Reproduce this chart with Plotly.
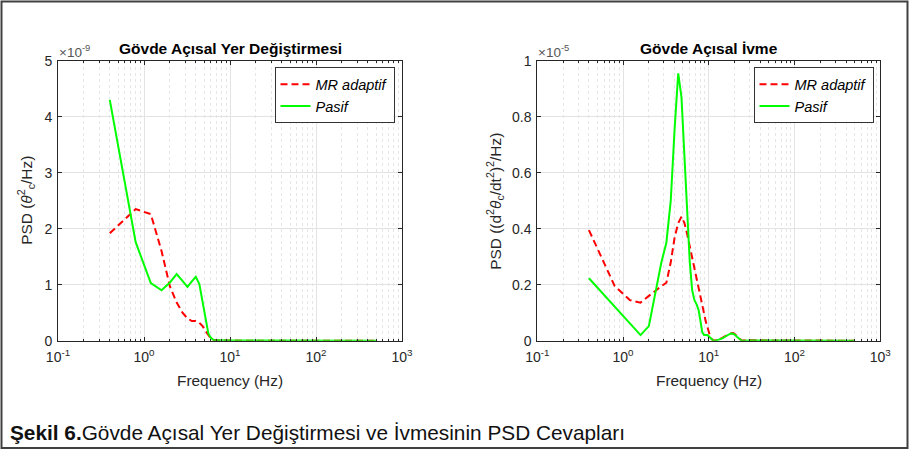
import plotly.graph_objects as go

# ---------------- data ----------------
freq = [0.4, 0.8, 1.2, 1.6, 2.0, 2.4, 2.8, 3.2, 3.6, 4.0, 4.4, 4.8, 5.2, 5.6, 6.0,
        6.4, 6.8, 7.2, 7.6, 8.0, 8.4, 8.8, 9.2, 9.6, 10.0, 10.4, 10.8, 11.2, 12.0,
        13.2, 14.4, 15.6, 16.8, 18.0, 19.2, 20.4, 21.6, 22.8, 24.0, 26.0, 30.0,
        50.0, 100.0, 200.0, 500.0]

# Left panel, units of 1e-9
disp_mr = [1.92, 2.35, 2.26, 1.60, 0.97, 0.68, 0.50, 0.40, 0.35, 0.35, 0.32, 0.26, 0.17, 0.09, 0.04,
           0.012, 0.004, 0.002, 0.002, 0.002, 0.001, 0.001, 0.001, 0.001, 0.001, 0.001, 0.001, 0.001, 0.001,
           0.001, 0.001, 0.001, 0.001, 0.001, 0.001, 0.001, 0.001, 0.001, 0.0, 0.0, 0.0,
           0.0, 0.0, 0.0, 0.0]
disp_pasif = [4.30, 1.76, 1.03, 0.90, 1.04, 1.19, 1.07, 0.96, 1.06, 1.14, 1.01, 0.68, 0.36, 0.13, 0.05,
              0.015, 0.006, 0.004, 0.003, 0.003, 0.002, 0.002, 0.002, 0.002, 0.002, 0.002, 0.002, 0.002, 0.002,
              0.002, 0.002, 0.002, 0.001, 0.001, 0.001, 0.001, 0.001, 0.001, 0.001, 0.001, 0.001,
              0.0, 0.0, 0.0, 0.0]

# Right panel, units of 1e-5
acc_mr = [0.395, 0.195, 0.145, 0.136, 0.16, 0.18, 0.195, 0.207, 0.28, 0.37, 0.42, 0.443, 0.42, 0.38, 0.336,
          0.29, 0.255, 0.22, 0.185, 0.15, 0.12, 0.095, 0.07, 0.05, 0.028, 0.014, 0.006, 0.002, 0.001,
          0.005, 0.01, 0.016, 0.022, 0.026, 0.027, 0.022, 0.012, 0.005, 0.002, 0.001, 0.002,
          0.001, 0.0005, 0.0, 0.0]
acc_pasif = [0.223, 0.12, 0.062, 0.02, 0.052, 0.17, 0.28, 0.35, 0.50, 0.76, 0.955, 0.87, 0.64, 0.45, 0.28,
             0.18, 0.145, 0.13, 0.11, 0.07, 0.03, 0.02, 0.02, 0.02, 0.016, 0.01, 0.004, 0.001, 0.0,
             0.003, 0.008, 0.015, 0.022, 0.026, 0.025, 0.02, 0.012, 0.005, 0.001, 0.0, 0.001,
             0.001, 0.0005, 0.0, 0.0]

x_tickvals = [0.1, 1, 10, 100, 1000]
x_ticktext = ["10<sup>-1</sup>", "10<sup>0</sup>", "10<sup>1</sup>", "10<sup>2</sup>", "10<sup>3</sup>"]

series_names = ["MR adaptif", "Pasif"]
titles = ["Gövde Açısal Yer Değiştirmesi", "Gövde Açısal İvme"]
caption_bold = "Şekil 6."
caption_rest = "Gövde Açısal Yer Değiştirmesi ve İvmesinin PSD Cevapları"

# ---------------- figure ----------------
W, H = 910, 450
FONT = "Liberation Sans, Arial, Helvetica, sans-serif"
AX = "#262626"
GRID = "#e3e3e3"
RED = "#ff0000"
GREEN = "#00ff00"


def px(x):
    return x / W


def py(y):
    return 1 - y / H


fig = go.Figure()
fig.add_trace(go.Scatter(x=freq, y=disp_mr, mode="lines", name=series_names[0],
                         line=dict(color=RED, width=2, dash="7px,4px"),
                         xaxis="x", yaxis="y", legend="legend"))
fig.add_trace(go.Scatter(x=freq, y=disp_pasif, mode="lines", name=series_names[1],
                         line=dict(color=GREEN, width=2),
                         xaxis="x", yaxis="y", legend="legend"))
fig.add_trace(go.Scatter(x=freq, y=acc_mr, mode="lines", name=series_names[0],
                         line=dict(color=RED, width=2, dash="7px,4px"),
                         xaxis="x2", yaxis="y2", legend="legend2"))
fig.add_trace(go.Scatter(x=freq, y=acc_pasif, mode="lines", name=series_names[1],
                         line=dict(color=GREEN, width=2),
                         xaxis="x2", yaxis="y2", legend="legend2"))

minor_vals = [m * d for d in (0.1, 1, 10, 100) for m in range(2, 10)]

xcommon = dict(
    type="log", range=[-1, 3], tickmode="array", tickvals=x_tickvals, ticktext=x_ticktext,
    showline=True, linecolor=AX, linewidth=1, mirror="ticks",
    ticks="inside", ticklen=4, tickcolor=AX, tickwidth=1,
    showgrid=True, gridcolor=GRID, gridwidth=1,
    minor=dict(tickmode="array", tickvals=minor_vals, ticks="inside", ticklen=2,
               tickcolor=AX, showgrid=True, gridcolor="#e6e6e6", griddash="dot", gridwidth=1),
    tickfont=dict(family=FONT, size=14, color=AX), zeroline=False, automargin=False,
    ticklabelstandoff=3,
)
ycommon = dict(
    showline=True, linecolor=AX, linewidth=1, mirror="ticks",
    ticks="inside", ticklen=4, tickcolor=AX, tickwidth=1,
    showgrid=True, gridcolor=GRID, gridwidth=1, zeroline=False, automargin=False,
    tickfont=dict(family=FONT, size=14, color=AX), ticklabelstandoff=2,
)

ydom = [py(340.7), py(60.7)]
fig.update_layout(
    width=W, height=H, margin=dict(l=0, r=0, t=0, b=0, pad=0, autoexpand=False),
    paper_bgcolor="white", plot_bgcolor="white",
    font=dict(family=FONT, color=AX),
    xaxis=dict(domain=[px(58), px(402)], anchor="y", **xcommon),
    yaxis=dict(domain=ydom, anchor="x", range=[0, 5], dtick=1, **ycommon),
    xaxis2=dict(domain=[px(537.3), px(880.3)], anchor="y2", **xcommon),
    yaxis2=dict(domain=ydom, anchor="x2", range=[0, 1], dtick=0.2, **ycommon),
    legend=dict(x=px(394.5), y=py(67.3), xanchor="right", yanchor="top",
                bgcolor="white", bordercolor="#333333", borderwidth=1,
                font=dict(family=FONT, size=14.5, color="#000000", style="italic"),
                tracegroupgap=0, itemwidth=30),
    legend2=dict(x=px(873.5), y=py(67.3), xanchor="right", yanchor="top",
                 bgcolor="white", bordercolor="#333333", borderwidth=1,
                 font=dict(family=FONT, size=14.5, color="#000000", style="italic"),
                 tracegroupgap=0, itemwidth=30),
    showlegend=True,
)


def note(text, x, y, size, color, xanchor="center", angle=0):
    return dict(text=text, x=px(x), y=py(y), xref="paper", yref="paper",
                xanchor=xanchor, yanchor="middle", textangle=angle, showarrow=False,
                font=dict(family=FONT, size=size, color=color))


ann = [
    note("<b>" + titles[0] + "</b>", 230, 48, 15.5, "#000000"),
    note("<b>" + titles[1] + "</b>", 708.8, 48, 15.5, "#000000"),
    note("×10<sup>-9</sup>", 57, 51, 13.5, "#555555", xanchor="left"),
    note("×10<sup>-5</sup>", 536, 51, 13.5, "#555555", xanchor="left"),
    note("Frequency (Hz)", 230, 380, 15.4, AX),
    note("Frequency (Hz)", 708.8, 380, 15.4, AX),
    note("PSD (<i>θ</i><sup>2</sup><sub>c</sub>/Hz)", 26, 200.7, 15.4, AX, angle=-90),
    note("PSD ((d<sup>2</sup><i>θ</i><sub>c</sub>/dt<sup>2</sup>)<sup>2</sup>/Hz)", 495, 200.7, 15.4, AX, angle=-90),
    note("<b>" + caption_bold + "</b>" + caption_rest, 8, 432, 20.8, "#111111", xanchor="left"),
]
fig.update_layout(annotations=ann)

# outer frame
fig.add_shape(type="rect", xref="paper", yref="paper",
              x0=px(1.5), x1=px(907.5), y0=py(448), y1=py(1.5),
              line=dict(color="#404040", width=2), fillcolor="rgba(0,0,0,0)", layer="above")

fig.write_html("out.html", config={"displayModeBar": False},
               post_script="document.body.style.margin='0';document.body.style.padding='0';"
                           "document.documentElement.style.overflow='hidden';")
